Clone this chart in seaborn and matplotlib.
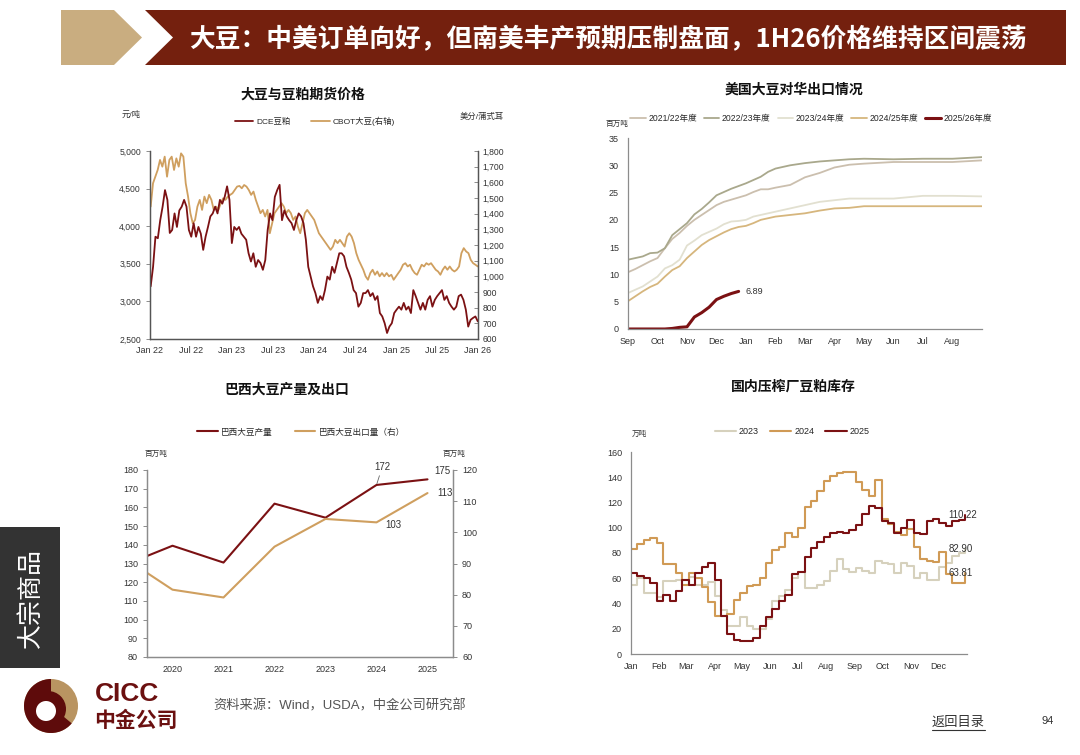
import numpy as np
import pandas as pd
import matplotlib
matplotlib.use("Agg")
import matplotlib.pyplot as plt
import matplotlib.dates as mdates
from matplotlib.patches import Polygon, Rectangle, Circle, Wedge
from matplotlib.lines import Line2D
from matplotlib.ticker import FuncFormatter, MultipleLocator, FixedLocator
import seaborn as sns

sns.set_style("white")
plt.rcParams["font.family"] = ["Liberation Sans", "Noto Sans CJK SC"]
plt.rcParams["axes.unicode_minus"] = False

W, H = 1080, 755
RED = "#7b1113"
TAN = "#cf9f5f"
HEAD_RED = "#74200e"
HEAD_TAN = "#c9ad80"
AX_GRAY = "#8c8c8c"
TXT = "#333333"

# ---------------- data ----------------
# chart 1: DCE soybean meal (yuan/t) and CBOT soybean (cents/bu), Jan 22 - Jan 26
DCE_MEAL = [3200, 3460, 3860, 3840, 4080, 4260, 4480, 4350, 3910, 3950, 4170, 3990,
            4210, 4260, 4350, 4260, 3950, 3860, 4040, 3860, 3990, 3900, 3685, 3860,
            3990, 4130, 4170, 4260, 4170, 4350, 4300, 4390, 4530, 4350, 3775, 3990,
            3950, 3990, 3900, 3860, 3820, 3640, 3530, 3640, 3460, 3550, 3510, 3420,
            3550, 3950, 4170, 4080, 4390, 4480, 4550, 4080, 4210, 4130, 4080, 4040,
            3950, 4080, 4170, 4130, 4040, 3820, 3460, 3330, 3200, 3110, 2980, 3070,
            3020, 3150, 3330, 3290, 3460, 3380, 3510, 3640, 3640, 3600, 3460, 3380,
            3290, 3150, 3110, 2930, 2980, 3110, 3110, 3150, 3070, 3110, 3020, 3070,
            2845, 2800, 2710, 2580, 2665, 2710, 2845, 2890, 2930, 2890, 2980, 2890,
            2930, 2845, 3150, 3070, 2980, 2890, 2980, 2890, 3020, 3070, 2930, 3020,
            3070, 3110, 3150, 3020, 3070, 2980, 2930, 2890, 2930, 3070, 3090, 3020,
            2890, 2665, 2755, 2780, 2800, 2735]
CBOT_BEAN = [1445, 1594, 1636, 1679, 1743, 1700, 1764, 1636, 1743, 1764, 1679, 1753,
             1700, 1785, 1764, 1594, 1509, 1403, 1339, 1360, 1445, 1488, 1424, 1509,
             1467, 1520, 1488, 1424, 1445, 1424, 1467, 1498, 1488, 1509, 1520, 1530,
             1551, 1573, 1577, 1562, 1583, 1573, 1551, 1520, 1541, 1488, 1445, 1403,
             1424, 1382, 1424, 1275, 1339, 1403, 1424, 1445, 1467, 1445, 1403, 1424,
             1403, 1360, 1382, 1318, 1275, 1339, 1403, 1424, 1403, 1382, 1360, 1318,
             1275, 1254, 1233, 1212, 1190, 1169, 1190, 1233, 1212, 1233, 1212, 1190,
             1254, 1275, 1254, 1212, 1148, 1105, 1074, 1042, 1000, 978, 1021, 1042,
             1010, 1031, 1000, 1021, 1000, 1021, 1000, 1010, 978, 1000, 1021, 1042,
             1074, 1084, 1063, 1074, 1042, 1021, 1010, 1042, 1074, 1063, 1084, 1074,
             1084, 1063, 1042, 1031, 1010, 1042, 1063, 1042, 1063, 1042, 1031, 1042,
             1063, 1148, 1180, 1159, 1148, 1105, 1084, 1074, 1063]
PRICE_TICKS = ["2022-01-01", "2022-07-01", "2023-01-01", "2023-07-01", "2024-01-01",
               "2024-07-01", "2025-01-01", "2025-07-01", "2026-01-01"]

# chart 2: cumulative US soybean exports to China (million t), months since Sep 1
EXP_MONTH = [0, 0.25, 0.5, 0.75, 1, 1.25, 1.5, 1.75, 2, 2.25, 2.5, 2.75, 3, 3.25, 3.5,
             3.75, 4, 4.25, 4.5, 4.75, 5, 5.5, 6, 6.5, 7, 7.5, 8, 9, 10, 11, 12]
EXP_2122 = [10.4, 11.0, 11.7, 12.4, 13.0, 14.8, 16.5, 17.6, 18.9, 20.0, 20.9, 21.8, 22.7,
            23.3, 23.7, 24.1, 24.5, 25.1, 25.6, 25.6, 25.9, 26.4, 27.8, 28.6, 29.6, 30.1,
            30.3, 30.6, 30.6, 30.6, 30.9]
EXP_2223 = [12.7, 13.0, 13.3, 13.9, 14.0, 14.8, 17.2, 18.3, 19.4, 21.0, 22.0, 23.2, 24.5,
            25.1, 25.7, 26.2, 26.7, 27.3, 27.9, 28.8, 29.4, 30.0, 30.4, 30.7, 30.9, 31.1,
            31.2, 31.1, 31.2, 31.2, 31.5]
EXP_2324 = [6.6, 7.2, 7.8, 8.7, 9.6, 11.1, 11.7, 12.7, 15.3, 16.2, 17.2, 17.8, 18.4, 19.2,
            19.7, 19.8, 20.0, 20.6, 20.9, 21.2, 21.5, 22.1, 22.7, 23.3, 23.6, 23.9, 23.9,
            23.9, 24.4, 24.4, 24.3]
EXP_2425 = [5.1, 6.0, 6.9, 7.7, 8.3, 9.6, 10.8, 11.5, 13.0, 14.2, 15.4, 16.3, 17.0, 17.7,
            18.3, 18.7, 18.9, 19.4, 20.0, 20.3, 20.6, 20.9, 21.2, 21.7, 22.1, 22.2, 22.5,
            22.5, 22.5, 22.5, 22.5]
EXP_2526 = [0, 0, 0, 0, 0, 0, 0.1, 0.3, 0.4, 2.2, 3.0, 4.0, 5.4, 6.0, 6.5, 6.89]
EXP_MONTHS_LBL = ["Sep", "Oct", "Nov", "Dec", "Jan", "Feb", "Mar", "Apr", "May", "Jun",
                  "Jul", "Aug"]

# chart 3: Brazil soybean production / exports (million t)
BR_YEARS = [2019, 2020, 2021, 2022, 2023, 2024, 2025]
BR_PROD = [128.5, 139.5, 130.5, 162.0, 154.5, 172.0, 175.0]
BR_EXPORT = [92.4, 81.6, 79.1, 95.4, 104.3, 103.2, 112.6]

# chart 4: crusher soybean meal stocks (10k t), weekly
INV_2023 = [55, 60, 48, 48, 45, 58, 58, 59, 59, 61, 55, 55, 57, 46, 35, 22, 22, 29, 22,
            20, 20, 28, 42, 46, 51, 60, 65, 52, 52, 55, 58, 66, 75, 67, 65, 68, 66, 64,
            74, 72, 71, 64, 72, 70, 60, 64, 59, 59, 69, 72, 78, 80, 82.90]
INV_2024 = [83, 87, 90, 92, 88, 71.5, 71.5, 64, 55, 64, 60, 53, 41, 30, 30, 32, 43, 48,
            54, 55, 60, 72, 82.5, 85, 95.5, 93, 100, 116.5, 121, 129, 137, 141, 143, 144,
            144, 136, 130, 125, 138, 107, 103, 97, 94, 99, 85, 75, 74, 73, 81, 63, 56, 56,
            63.81]
INV_2025 = [64, 62, 60, 56, 42, 47, 42, 50, 59, 55, 64, 69, 72, 59, 30, 16, 11, 10, 10,
            12.5, 22, 29, 36, 42, 47, 63, 65, 77, 84, 89, 93, 96, 97, 96, 98, 102, 111,
            117, 116, 105, 104, 96, 100, 106, 96, 95, 105, 107, 104, 101, 105, 106, 110.22]

fig = plt.figure(figsize=(W / 100, H / 100), dpi=100)
fig.patch.set_facecolor("white")


def box(l, t, r, b):
    return [l / W, 1 - b / H, (r - l) / W, (b - t) / H]


def fxy(x, y):
    return x / W, 1 - y / H


# ---------------- slide decoration ----------------
bg = fig.add_axes([0, 0, 1, 1], zorder=-5)
bg.set_xlim(0, W)
bg.set_ylim(H, 0)
bg.axis("off")
bg.add_patch(Polygon([(61, 10), (114, 10), (142, 37.5), (114, 65), (61, 65)],
                     closed=True, color=HEAD_TAN, lw=0))
bg.add_patch(Polygon([(145, 10), (1066, 10), (1066, 65), (145, 65), (173, 37.5)],
                     closed=True, color=HEAD_RED, lw=0))
bg.text(608, 39, "大豆：中美订单向好，但南美丰产预期压制盘面，1H26价格维持区间震荡",
        color="white", fontsize=18.5, fontweight="bold", ha="center", va="center",
        family=["Noto Sans CJK SC"])
bg.add_patch(Rectangle((0, 527), 60, 141, color="#333333", lw=0))
bg.text(31, 598, "大宗商品", color="white", fontsize=18, rotation=90,
        ha="center", va="center", family=["Noto Sans CJK SC"])

# logo
bg.add_patch(Circle((51, 706), 27, color="#b99461", lw=0))
bg.add_patch(Wedge((51, 706), 27, 40, 270, color="#5e0b0b", lw=0))
bg.add_patch(Circle((48, 709), 18, color="#5e0b0b", lw=0))
bg.add_patch(Circle((46, 711), 10, color="white", lw=0))
bg.text(95, 694, "CICC", color="#6b1010", fontsize=19, fontweight="bold",
        ha="left", va="center", family=["Liberation Sans"])
bg.text(94, 720, "中金公司", color="#6b1010", fontsize=15, fontweight="bold",
        ha="left", va="center", family=["Noto Sans CJK SC"])
bg.text(213, 706, "资料来源：Wind，USDA，中金公司研究部", color="#555555", fontsize=9.5,
        ha="left", va="center")
bg.text(932, 722, "返回目录", color=TXT, fontsize=9.5, ha="left", va="center",
        family=["Noto Sans CJK SC"])
bg.plot([932, 985], [730, 730], color=TXT, lw=0.8)
bg.text(1042, 721, "94", color=TXT, fontsize=8, ha="left", va="center")


def style(ax, spines=("left", "bottom")):
    for s in ["left", "right", "top", "bottom"]:
        ax.spines[s].set_visible(s in spines)
        ax.spines[s].set_color(AX_GRAY)
        ax.spines[s].set_linewidth(0.9)
    ax.tick_params(labelsize=6.5, colors=TXT, color=AX_GRAY, length=3, width=0.7)
    ax.set_xlabel("")
    ax.set_ylabel("")
    ax.patch.set_alpha(0)


comma = FuncFormatter(lambda v, p: f"{v:,.0f}")

# ---------------- chart 1 ----------------
ax1 = fig.add_axes(box(150, 151, 478, 339))
ax1r = ax1.twinx()
dce_dates = pd.date_range("2022-01-04", "2025-12-31", periods=len(DCE_MEAL))
cbot_dates = pd.date_range("2022-01-04", "2025-12-31", periods=len(CBOT_BEAN))
sns.lineplot(x=cbot_dates, y=CBOT_BEAN, ax=ax1r, color=TAN, lw=1.3, legend=False)
sns.lineplot(x=dce_dates, y=DCE_MEAL, ax=ax1, color=RED, lw=1.3, legend=False)
ax1.set_zorder(ax1r.get_zorder() + 1)
ax1.patch.set_visible(False)
ax1.set_ylim(2500, 5000)
ax1r.set_ylim(600, 1800)
ax1.yaxis.set_major_locator(MultipleLocator(500))
ax1r.yaxis.set_major_locator(MultipleLocator(100))
ax1.yaxis.set_major_formatter(comma)
ax1r.yaxis.set_major_formatter(comma)
ticks1 = pd.to_datetime(PRICE_TICKS)
ax1.set_xlim(ticks1[0], ticks1[-1])
ax1.set_xticks(ticks1)
ax1.xaxis.set_major_formatter(mdates.DateFormatter("%b %y"))
for a in (ax1, ax1r):
    style(a, ("left", "bottom", "right"))
    a.spines["left"].set_color("#555555")
    a.spines["bottom"].set_color("#555555")
    a.spines["right"].set_color("#555555")
ax1.tick_params(axis="x", direction="in", pad=5)
ax1.tick_params(axis="y", direction="out", labelsize=6.2)
ax1r.tick_params(axis="y", direction="in", labelsize=6.2)
fig.text(*fxy(303, 95), "大豆与豆粕期货价格", fontsize=10, fontweight="bold",
         ha="center", va="center", color="#111111")
fig.text(*fxy(122, 115), "元/吨", fontsize=6, ha="left", va="center", color=TXT)
fig.text(*fxy(460, 117), "美分/蒲式耳", fontsize=6, ha="left", va="center", color=TXT)
fig.legend([Line2D([], [], color=RED, lw=1.3), Line2D([], [], color=TAN, lw=1.3)],
           ["DCE豆粕", "CBOT大豆(右轴)"], loc="center",
           bbox_to_anchor=fxy(315, 121), ncol=2, frameon=False, fontsize=6,
           handlelength=2.2, columnspacing=2.5, handletextpad=0.4)

# ---------------- chart 2 ----------------
ax2 = fig.add_axes(box(628, 138, 982, 329))
exp_series = [("2021/22年度", EXP_2122, "#cbbfae", 1.3),
              ("2022/23年度", EXP_2223, "#a9a88c", 1.3),
              ("2023/24年度", EXP_2324, "#e2e0d0", 1.3),
              ("2024/25年度", EXP_2425, "#d6b67d", 1.3)]
for name, vals, col, lw in exp_series:
    sns.lineplot(x=EXP_MONTH, y=vals, ax=ax2, color=col, lw=lw, legend=False)
sns.lineplot(x=EXP_MONTH[:len(EXP_2526)], y=EXP_2526, ax=ax2, color=RED, lw=2.2,
             legend=False)
ax2.set_ylim(0, 35)
ax2.set_xlim(0, 12)
ax2.yaxis.set_major_locator(MultipleLocator(5))
ax2.set_xticks(range(12))
ax2.set_xticklabels(EXP_MONTHS_LBL)
style(ax2)
ax2.tick_params(axis="x", direction="out", length=2.5)
ax2.annotate(f"{EXP_2526[-1]:.2f}", xy=(EXP_MONTH[len(EXP_2526) - 1], EXP_2526[-1]),
             xytext=(5, 0), textcoords="offset points", fontsize=6.5, color=TXT,
             va="center", ha="left")
fig.text(*fxy(794, 90), "美国大豆对华出口情况", fontsize=10, fontweight="bold",
         ha="center", va="center", color="#111111")
fig.text(*fxy(606, 124), "百万吨", fontsize=5.5, ha="left", va="center", color=TXT)
h2 = [Line2D([], [], color=c, lw=lw) for _, _, c, lw in exp_series]
h2.append(Line2D([], [], color=RED, lw=2.2))
fig.legend(h2, [s[0] for s in exp_series] + ["2025/26年度"], loc="center",
           bbox_to_anchor=fxy(811, 119), ncol=5, frameon=False, fontsize=6.2,
           handlelength=1.8, columnspacing=0.8, handletextpad=0.3)

# ---------------- chart 3 ----------------
ax3 = fig.add_axes(box(147, 470, 453, 657))
ax3r = ax3.twinx()
sns.lineplot(x=BR_YEARS, y=BR_PROD, ax=ax3, color=RED, lw=1.5, legend=False)
sns.lineplot(x=BR_YEARS, y=BR_EXPORT, ax=ax3r, color=TAN, lw=1.5, legend=False)
ax3.set_xlim(BR_YEARS[0] + 0.5, BR_YEARS[-1] + 0.5)
ax3.set_ylim(80, 180)
ax3r.set_ylim(60, 120)
ax3.yaxis.set_major_locator(MultipleLocator(10))
ax3r.yaxis.set_major_locator(MultipleLocator(10))
ax3.set_xticks(BR_YEARS[1:])
ax3.set_xticklabels([str(y) for y in BR_YEARS[1:]])
ax3.xaxis.set_minor_locator(FixedLocator([y + 0.5 for y in BR_YEARS[1:-1]]))
for a in (ax3, ax3r):
    style(a, ("left", "bottom", "right"))
ax3.tick_params(axis="x", which="major", length=0, pad=6)
ax3.tick_params(axis="x", which="minor", length=3, color=AX_GRAY, direction="in")
ax3.annotate(f"{BR_PROD[-2]:.0f}", xy=(BR_YEARS[-2], BR_PROD[-2]), xytext=(4, 9),
             textcoords="offset points", fontsize=7, color=TXT, ha="center",
             va="bottom", arrowprops=dict(arrowstyle="-", color="#666666", lw=0.6,
                                          shrinkA=0, shrinkB=1))
ax3.annotate(f"{BR_PROD[-1]:.0f}", xy=(BR_YEARS[-1], BR_PROD[-1]), xytext=(5, 6),
             textcoords="offset points", fontsize=7, color=TXT, ha="left",
             va="center")
ax3r.annotate(f"{BR_EXPORT[-1]:.0f}", xy=(BR_YEARS[-1], BR_EXPORT[-1]), xytext=(7, 0),
              textcoords="offset points", fontsize=7, color=TXT, ha="left",
              va="center")
ax3r.annotate(f"{BR_EXPORT[-2]:.0f}", xy=(BR_YEARS[-2], BR_EXPORT[-2]),
              xytext=(6, -2), textcoords="offset points", fontsize=7, color=TXT,
              ha="left", va="center")
fig.text(*fxy(287, 390), "巴西大豆产量及出口", fontsize=10, fontweight="bold",
         ha="center", va="center", color="#111111")
fig.text(*fxy(145, 454), "百万吨", fontsize=5.5, ha="left", va="center", color=TXT)
fig.text(*fxy(443, 454), "百万吨", fontsize=5.5, ha="left", va="center", color=TXT)
fig.legend([Line2D([], [], color=RED, lw=1.5), Line2D([], [], color=TAN, lw=1.5)],
           ["巴西大豆产量", "巴西大豆出口量（右）"], loc="center",
           bbox_to_anchor=fxy(301, 432), ncol=2, frameon=False, fontsize=6.2,
           handlelength=2.4, columnspacing=2.5, handletextpad=0.4)

# ---------------- chart 4 ----------------
ax4 = fig.add_axes(box(631, 452, 967, 654))
wk = pd.date_range("2024-01-01", periods=len(INV_2024), freq="7D")
inv_series = [("2023", INV_2023, "#d6d1bd"), ("2024", INV_2024, "#d09a55"),
              ("2025", INV_2025, RED)]
for name, vals, col in inv_series:
    sns.lineplot(x=wk[:len(vals)], y=vals, ax=ax4, color=col, lw=1.5,
                 drawstyle="steps-post", legend=False)
ax4.set_ylim(0, 160)
ax4.yaxis.set_major_locator(MultipleLocator(20))
ax4.set_xlim(pd.Timestamp("2024-01-01"), pd.Timestamp("2025-01-01"))
ax4.set_xticks(pd.date_range("2024-01-01", periods=12, freq="MS"))
ax4.xaxis.set_major_formatter(mdates.DateFormatter("%b"))
style(ax4)
ax4.tick_params(axis="x", direction="out", length=2.5)
for name, vals, col in inv_series:
    ax4.annotate(f"{vals[-1]:.2f}", xy=(wk[len(vals) - 1], vals[-1]), xytext=(-12, 0),
                 textcoords="offset points", fontsize=7, color=TXT, ha="left",
                 va="center")
fig.text(*fxy(793, 387), "国内压榨厂豆粕库存", fontsize=10, fontweight="bold",
         ha="center", va="center", color="#111111")
fig.text(*fxy(632, 434), "万吨", fontsize=5.5, ha="left", va="center", color=TXT)
fig.legend([Line2D([], [], color=c, lw=1.5) for _, _, c in inv_series],
           [s[0] for s in inv_series], loc="center", bbox_to_anchor=fxy(792, 432),
           ncol=3, frameon=False, fontsize=6.5, handlelength=2.4, columnspacing=1.2,
           handletextpad=0.3)

fig.savefig("out.png", dpi=100, facecolor="white")
